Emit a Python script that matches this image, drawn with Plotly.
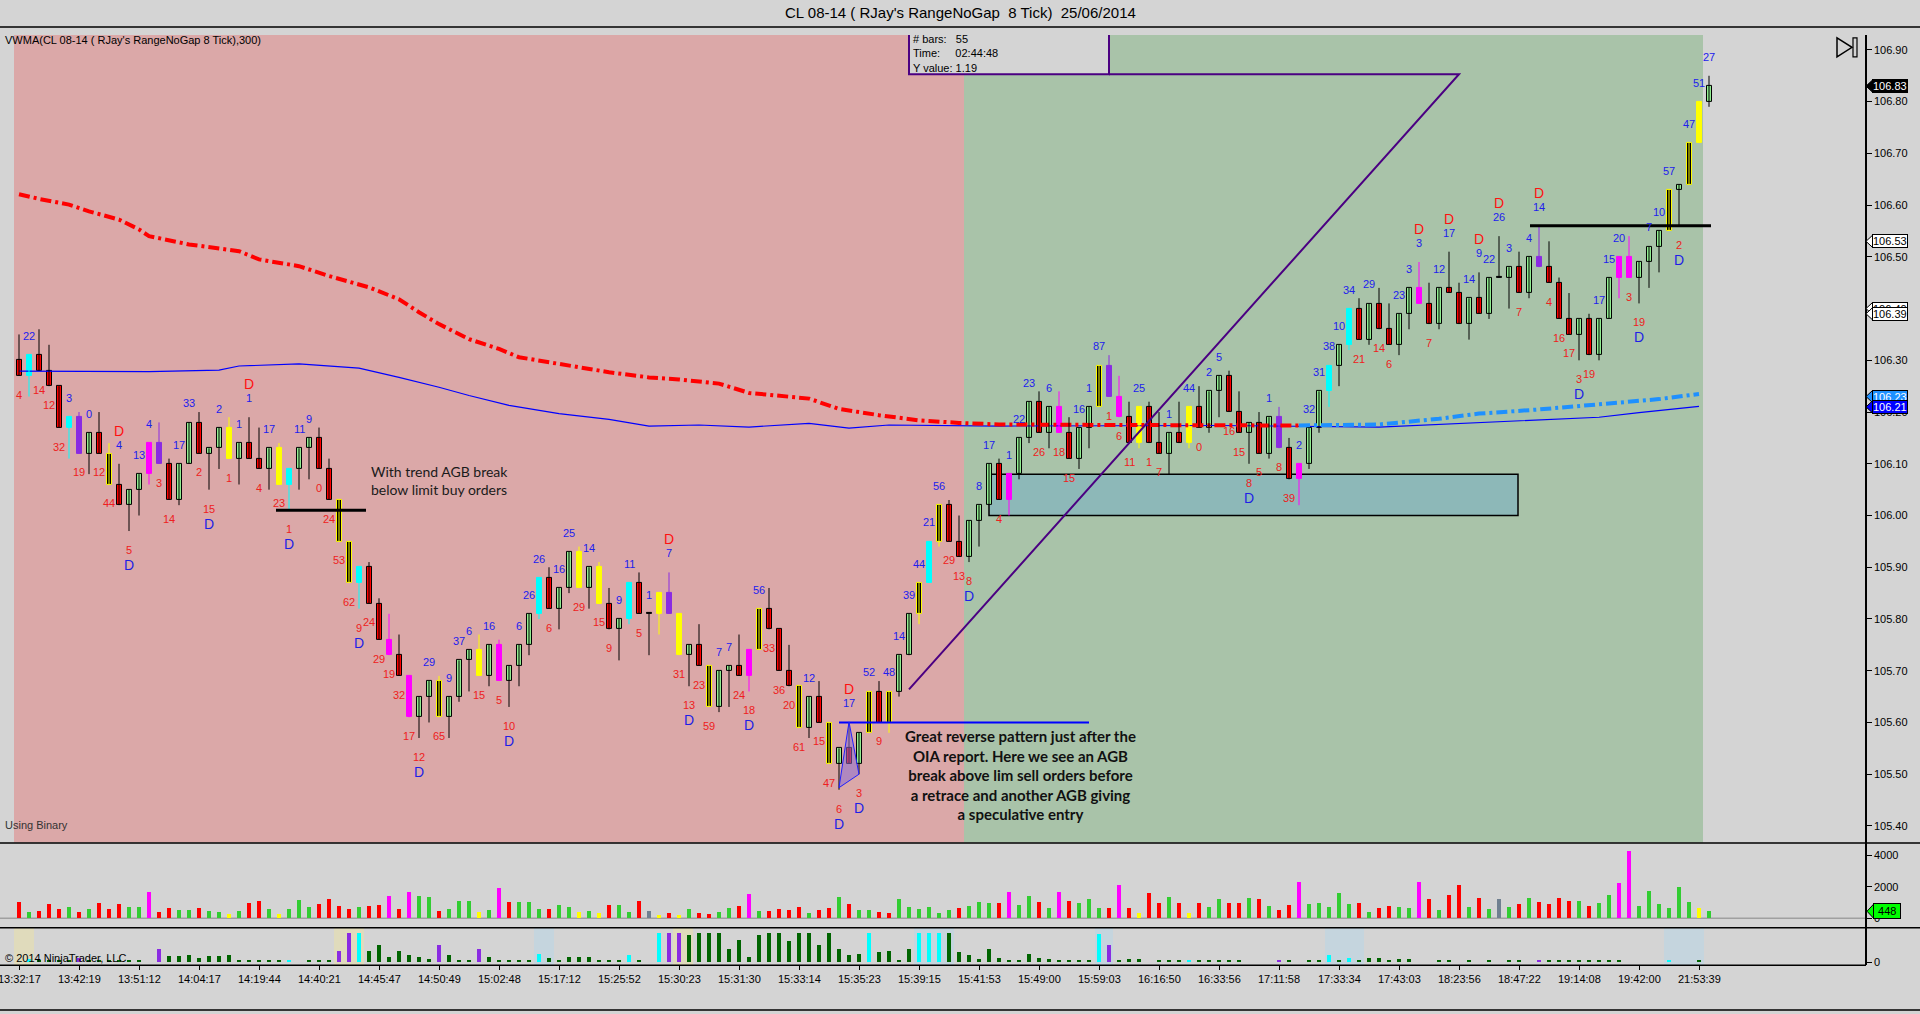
import plotly.graph_objects as go

W, H = 1920, 1014

# ---------------- data ----------------
opens = [106.30,106.27,106.31,106.28,106.25,106.17,106.19,106.12,106.16,106.12,
 106.06,106.02,106.05,106.08,106.14,106.10,106.03,106.10,106.18,106.12,
 106.13,106.17,106.11,106.14,106.11,106.09,106.13,106.06,106.09,106.13,
 106.15,106.09,106.03,105.95,105.87,105.90,105.83,105.76,105.73,105.69,
 105.61,105.65,105.68,105.61,105.65,105.72,105.74,105.69,105.75,105.68,
 105.71,105.75,105.81,105.88,105.82,105.86,105.93,105.86,105.90,105.83,
 105.78,105.80,105.87,105.81,105.81,105.85,105.81,105.73,105.75,105.71,
 105.63,105.70,105.71,105.69,105.74,105.82,105.78,105.70,105.67,105.59,
 105.65,105.60,105.52,105.55,105.52,105.58,105.66,105.60,105.66,105.73,
 105.81,105.87,105.95,106.02,105.95,105.92,105.99,106.02,106.10,106.03,
 106.08,106.15,106.22,106.16,106.21,106.16,106.11,106.17,106.21,106.29,
 106.23,106.19,106.14,106.21,106.14,106.12,106.16,106.14,106.21,106.17,
 106.24,106.27,106.20,106.16,106.18,106.12,106.19,106.13,106.07,106.10,
 106.17,106.24,106.29,106.33,106.40,106.34,106.41,106.36,106.33,106.39,
 106.44,106.41,106.37,106.44,106.43,106.37,106.42,106.39,106.46,106.46,
 106.48,106.43,106.50,106.48,106.45,106.38,106.35,106.38,106.31,106.38,
 106.46,106.50,106.46,106.49,106.52,106.55,106.63,106.64,106.72,106.80]
highs = [106.35,106.31,106.36,106.33,106.25,106.19,106.20,106.16,106.20,106.14,
 106.10,106.05,106.08,106.14,106.18,106.11,106.10,106.18,106.20,106.13,
 106.17,106.19,106.14,106.19,106.17,106.13,106.14,106.09,106.13,106.15,
 106.17,106.11,106.03,105.95,105.90,105.91,105.84,105.81,105.77,105.69,
 105.65,105.68,105.69,105.65,105.72,105.74,105.77,105.75,105.76,105.71,
 105.75,105.81,105.88,105.90,105.86,105.93,105.94,105.90,105.91,105.86,
 105.80,105.87,105.89,105.81,105.85,105.89,105.81,105.75,105.79,105.71,
 105.70,105.71,105.77,105.74,105.82,105.86,105.78,105.75,105.67,105.65,
 105.68,105.60,105.55,105.60,105.58,105.66,105.68,105.66,105.73,105.81,
 105.87,105.95,106.02,106.03,106.00,105.99,106.02,106.10,106.11,106.08,
 106.15,106.22,106.24,106.21,106.24,106.19,106.17,106.21,106.29,106.31,
 106.27,106.22,106.21,106.22,106.20,106.16,106.22,106.21,106.25,106.24,
 106.27,106.28,106.24,106.18,106.20,106.19,106.21,106.15,106.10,106.17,
 106.24,106.29,106.33,106.40,106.42,106.41,106.44,106.41,106.39,106.44,
 106.49,106.45,106.44,106.51,106.45,106.42,106.47,106.46,106.54,106.48,
 106.51,106.50,106.56,106.53,106.46,106.43,106.38,106.39,106.38,106.46,
 106.50,106.54,106.49,106.52,106.55,106.63,106.64,106.72,106.80,106.85]
lows = [106.27,106.23,106.28,106.25,106.17,106.11,106.12,106.08,106.12,106.06,
 106.02,105.97,106.00,106.06,106.10,106.03,106.02,106.10,106.12,106.05,
 106.09,106.11,106.06,106.11,106.09,106.05,106.06,106.01,106.05,106.07,
 106.09,106.03,105.95,105.87,105.82,105.83,105.76,105.73,105.69,105.61,
 105.57,105.60,105.61,105.57,105.64,105.66,105.69,105.67,105.68,105.63,
 105.67,105.73,105.80,105.82,105.78,105.85,105.86,105.82,105.83,105.78,
 105.72,105.79,105.81,105.73,105.77,105.81,105.73,105.67,105.71,105.63,
 105.62,105.63,105.69,105.66,105.74,105.78,105.70,105.67,105.59,105.57,
 105.60,105.52,105.47,105.52,105.50,105.58,105.60,105.58,105.65,105.73,
 105.79,105.87,105.94,105.95,105.92,105.91,105.94,106.02,106.03,106.00,
 106.07,106.14,106.16,106.13,106.16,106.11,106.09,106.13,106.21,106.23,
 106.19,106.14,106.13,106.14,106.12,106.08,106.14,106.13,106.17,106.16,
 106.19,106.20,106.16,106.10,106.12,106.11,106.13,106.07,106.02,106.09,
 106.16,106.21,106.25,106.32,106.34,106.33,106.36,106.33,106.31,106.36,
 106.41,106.37,106.36,106.43,106.37,106.34,106.39,106.38,106.46,106.40,
 106.43,106.42,106.48,106.45,106.38,106.35,106.30,106.31,106.30,106.38,
 106.42,106.46,106.41,106.44,106.47,106.55,106.56,106.64,106.72,106.79]
closes = [106.27,106.31,106.28,106.25,106.17,106.19,106.12,106.16,106.12,106.06,
 106.02,106.05,106.08,106.14,106.10,106.03,106.10,106.18,106.12,106.13,
 106.17,106.11,106.14,106.11,106.09,106.13,106.06,106.09,106.13,106.15,
 106.09,106.03,105.95,105.87,105.90,105.83,105.76,105.73,105.69,105.61,
 105.65,105.68,105.61,105.65,105.72,105.74,105.69,105.75,105.68,105.71,
 105.75,105.81,105.88,105.82,105.86,105.93,105.86,105.90,105.83,105.78,
 105.80,105.87,105.81,105.81,105.85,105.81,105.73,105.75,105.71,105.63,
 105.70,105.71,105.69,105.74,105.82,105.78,105.70,105.67,105.59,105.65,
 105.60,105.52,105.55,105.52,105.58,105.66,105.60,105.66,105.73,105.81,
 105.87,105.95,106.02,105.95,105.92,105.99,106.02,106.10,106.03,106.08,
 106.15,106.22,106.16,106.21,106.16,106.11,106.17,106.21,106.29,106.23,
 106.19,106.14,106.21,106.14,106.12,106.16,106.14,106.21,106.17,106.24,
 106.27,106.20,106.16,106.18,106.12,106.19,106.13,106.07,106.10,106.17,
 106.24,106.29,106.33,106.40,106.34,106.41,106.36,106.33,106.39,106.44,
 106.41,106.37,106.44,106.43,106.37,106.42,106.39,106.46,106.46,106.48,
 106.43,106.50,106.48,106.45,106.38,106.35,106.38,106.31,106.38,106.46,
 106.50,106.46,106.49,106.52,106.55,106.63,106.64,106.72,106.80,106.83]
candle_codes = list("rcrrrcpgrk" "rggmprggrg" "gygrrgycgg" "rrkkcrrmrm" "ggkgggygmg"
                    "ggcrggygyr" "gcrdypygrk" "ggrmkrrrkg" "rkgrgkrkgg" "kckrrgggrm"
                    "ggrgmrggkp" "mryrrgryrg" "grrgrgprmg" "gcgcrgrrgg" "mrgrrgrgdg"
                    "rgprrrgrgg" "mmgggkgkyg")

volume = [1020,380,445,870,550,700,380,530,955,530,
 870,660,700,1650,380,635,490,490,635,425,
 340,230,425,955,1080,570,230,550,1120,700,
 870,1210,740,550,660,740,805,1400,530,1650,
 1400,1335,445,550,1080,1080,380,490,1910,1020,
 1020,1020,550,530,805,660,340,425,320,805,
 805,380,1080,425,170,320,170,550,320,210,
 380,595,765,1505,445,425,530,490,660,320,
 490,595,1335,870,490,490,380,275,1190,660,
 530,660,320,490,600,760,1020,955,910,1650,
 830,1400,1020,595,1650,1080,955,1165,595,595,
 2080,595,320,1590,910,1335,910,320,955,660,
 1165,910,910,1230,1165,760,465,830,2290,850,
 910,660,1590,850,910,340,595,760,660,595,
 2290,1165,465,1480,2080,660,1230,530,1165,700,
 850,1270,1020,850,1270,1080,1080,760,910,1480,
 2225,4260,760,1720,850,635,1970,975,595,448]
volume_codes = list("rgrrrgrgrr" "rggmrrggrg" "gygrrgyggg" "rrrrgrrmrm" "ggrgggygmr"
                    "gggrggygyr" "ggrsyrygrr" "ggrmgrrrrg" "rrgrggrrgg" "ggggrgggrm"
                    "ggrgmrgggr" "mryrrgryrg" "grrgrgrrmg" "ggggrgrrgg" "mrgrrgrgsg"
                    "rgrrrrgrgg" "mmggggggyg")

lower_vals = [0,3,2,2,2,2,4,2,2,2, 2,2,2,0,13,6,6,7,4,6, 6,7,2,2,2,2,2,2,0,2,
 2,2,11,29,29,11,17,5,11,7, 5,3,17,7,2,2,13,5,2,2, 2,2,8,4,2,5,5,5,2,2,
 2,7,2,0,29,29,29,27,29,29, 29,13,22,5,27,29,29,21,29,29, 17,29,13,7,8,29,10,11,2,13,
 29,29,29,29,10,7,3,13,4,2, 2,8,4,3,2,2,2,2,28,17, 2,3,3,0,2,2,2,2,2,2,
 2,2,2,0,0,0,2,2,0,2, 2,7,2,4,2,4,4,2,3,3, 0,0,2,2,0,2,0,2,0,2,
 2,0,2,2,2,2,2,2,2,2, 2,0,0,0,0,2,0,0,2,0]
lower_codes = list("ncddddpddd" "dddnpddddd" "dddddddcnd" "ddppcddddd" "ddpdddpddd"
                   "ddcddddddd" "dcdncppddd" "dddddddddd" "dddddcdddd" "cccddddddd"
                   "ddddddddcp" "dddndddcdd" "dddnnnpdnd" "dcdcdddddd" "nnddndndnd"
                   "dnpddddddd" "dnnnncnndn")

# moving averages (vertices)
vwma_fast_x = [0,2,5,7,10,12,13,17,22,24,28,31,35,38,40,42,45,48,50,54,57,59,63,66,70,73,79,82,86,90,94,98,110,120,128]
vwma_fast_y = [106.621,106.612,106.601,106.588,106.572,106.553,106.540,106.524,106.511,106.495,106.482,106.463,
               106.441,106.418,106.393,106.370,106.341,106.322,106.306,106.293,106.285,106.277,106.267,106.263,
               106.255,106.237,106.226,106.206,106.194,106.184,106.179,106.176,106.175,106.174,106.174]
vwma_rise_x = [128,136,142,146,152,160,164,168]
vwma_rise_y = [106.174,106.176,106.187,106.197,106.205,106.219,106.225,106.235]
vwma300_x = [0,13,20,22,28,34,38,42,45,49,54,59,63,68,73,79,83,87,98,120,136,146,158,162,168]
vwma300_y = [106.279,106.278,106.281,106.289,106.293,106.285,106.267,106.248,106.232,106.213,106.197,106.186,
             106.173,106.175,106.171,106.178,106.169,106.175,106.173,106.174,106.171,106.180,106.190,106.199,106.211]

tick_bars = list(range(0, 170, 6))
tick_times = ["13:32:17","13:42:19","13:51:12","14:04:17","14:19:44","14:40:21","14:45:47","14:50:49",
              "15:02:48","15:17:12","15:25:52","15:30:23","15:31:30","15:33:14","15:35:23","15:39:15",
              "15:41:53","15:49:00","15:59:03","16:16:50","16:33:56","17:11:58","17:33:34","17:43:03",
              "18:23:56","18:47:22","19:14:08","19:42:00","21:53:39"]
price_ticks = [105.4,105.5,105.6,105.7,105.8,105.9,106.0,106.1,106.2,106.3,106.4,106.5,106.6,106.7,106.8,106.9]

top_idx = [1,5,7,10,12,13,16,17,20,22,23,25,28,29,41,43,44,45,47,50,51,52,54,55,57,60,61,63,65,70,
           71,74,79,83,85,87,88,89,90,91,92,96,97,99,100,101,103,106,107,108,112,115,117,119,120,125,128,129,130,131,
           132,133,135,138,139,140,142,143,145,146,147,148,149,151,152,158,159,160,163,164,165,167,168,169]
top_txt = ["22","3","0","4","13","4","17","33","2","1","1","17","11","9","29","9","37","6","16","6",
           "26","26","16","25","14","9","11","1","7","7","7","56","12","17","52","48","14","39","44","21",
           "56","8","17","1","22","23","6","16","1","87","25","1","44","2","5","1","2","32","31","38",
           "10","34","29","23","3","3","12","17","14","9","22","26","3","4","14","17","15","20","7","10",
           "57","47","51","27"]
bot_idx = [0,2,3,4,6,8,9,11,14,15,18,19,21,24,26,27,30,31,32,33,34,35,36,37,38,39,40,42,46,48,
           49,53,56,58,59,62,66,67,68,69,72,73,75,76,77,78,80,81,82,84,86,93,94,95,98,102,104,105,109,110,
           111,113,114,118,121,122,123,124,126,127,134,136,137,141,150,153,154,155,156,157,161,162,166]
bot_txt = ["4","14","12","32","19","12","44","5","3","14","2","15","1","4","23","1","0","24","53","62",
           "9","24","29","19","32","17","12","65","15","5","10","6","29","15","9","5","31","13","23","59",
           "24","18","33","36","20","61","15","47","6","3","9","29","13","8","4","26","18","15","1","6",
           "11","1","7","0","16","15","8","5","8","39","21","14","6","7","7","4","16","17","3","19",
           "3","19","2"]
dtop_idx = [10,23,65,83,140,143,146,148,152]
dbot_idx = [11,19,27,34,40,49,67,73,82,84,95,123,156,162,166]

# price tags on right axis: value, fill, text colour
tag_vals = [106.83, 106.53, 106.40, 106.39, 106.23, 106.21]
tag_fill = ["#000000", "#FFFFFF", "#FFFFFF", "#FFFFFF", "#1E90FF", "#0000FF"]
tag_font = ["#FFFFFF", "#000000", "#000000", "#000000", "#FFFFFF", "#FFFFFF"]
last_volume = 448

# ---------------- helpers ----------------
def fx(px):
    return px / W

def fy(px):
    return 1 - px / H

N = len(opens)
xs = list(range(N))
FONT = "Liberation Sans, Arial, sans-serif"

body_fill = {"g": "#90EE90", "r": "#FF0000", "c": "#00FFFF", "m": "#FF00FF",
             "p": "#8A2BE2", "y": "#FFFF00", "k": "#000000", "d": "#000000"}
body_line = {"g": "#000000", "r": "#000000", "c": "#00FFFF", "m": "#FF00FF",
             "p": "#8A2BE2", "y": "#FFFF00", "k": "#FFFF00", "d": "#000000"}
wick_col = {"g": "#000000", "r": "#000000", "d": "#000000", "c": "#00FFFF",
            "m": "#FF00FF", "p": "#8A2BE2", "y": "#FFFF00", "k": "#FFFF00"}
vol_col = {"r": "#FF0000", "g": "#32CD32", "m": "#FF00FF", "y": "#FFFF00", "s": "#708090"}
low_col = {"d": "#006400", "c": "#00FFFF", "p": "#8A2BE2", "n": "rgba(0,0,0,0)"}

fig = go.Figure()

# moving averages
fig.add_trace(go.Scatter(x=vwma300_x, y=vwma300_y, mode="lines",
                         line=dict(color="#0000FF", width=1.2), xaxis="x", yaxis="y", hoverinfo="skip"))
fig.add_trace(go.Scatter(x=vwma_fast_x, y=vwma_fast_y, mode="lines",
                         line=dict(color="#FF0000", width=4, dash="11px,4px,3px,4px"),
                         xaxis="x", yaxis="y", hoverinfo="skip"))
fig.add_trace(go.Scatter(x=vwma_rise_x, y=vwma_rise_y, mode="lines",
                         line=dict(color="#1E90FF", width=4, dash="11px,4px,3px,4px"),
                         xaxis="x", yaxis="y", hoverinfo="skip"))

# wicks grouped by colour
for wc in sorted(set(wick_col.values())):
    wx, wy = [], []
    for i in xs:
        if wick_col[candle_codes[i]] == wc:
            wx += [i, i, None]
            wy += [lows[i], highs[i], None]
    if wx:
        fig.add_trace(go.Scatter(x=wx, y=wy, mode="lines", line=dict(color=wc, width=1),
                                 xaxis="x", yaxis="y", hoverinfo="skip"))

# bodies
base = [min(o, c) for o, c in zip(opens, closes)]
height = [max(abs(c - o), 0.0015) for o, c in zip(opens, closes)]
fig.add_trace(go.Bar(x=xs, y=height, base=base, width=0.5,
                     marker=dict(color=[body_fill[k] for k in candle_codes],
                                 line=dict(color=[body_line[k] for k in candle_codes], width=1)),
                     xaxis="x", yaxis="y", hoverinfo="skip"))

# volume
fig.add_trace(go.Bar(x=xs, y=volume, width=0.32,
                     marker=dict(color=[vol_col[k] for k in volume_codes], line=dict(width=0)),
                     xaxis="x2", yaxis="y2", hoverinfo="skip"))
# lower indicator
fig.add_trace(go.Bar(x=xs, y=lower_vals, width=0.42,
                     marker=dict(color=[low_col[k] for k in lower_codes], line=dict(width=0)),
                     xaxis="x3", yaxis="y3", hoverinfo="skip"))

XDOM = [fx(14), fx(1865)]
XR = [-0.5, 184.6]
axis_common = dict(showgrid=False, zeroline=False, fixedrange=True)
fig.update_layout(
    width=W, height=H, margin=dict(l=0, r=0, t=0, b=0),
    paper_bgcolor="#D4D4D4", plot_bgcolor="rgba(0,0,0,0)",
    showlegend=False, barmode="overlay", bargap=0,
    font=dict(family=FONT, size=11, color="#000000"),
    xaxis=dict(domain=XDOM, range=XR, anchor="y", showticklabels=False, ticks="", **axis_common),
    xaxis2=dict(domain=XDOM, range=XR, anchor="y2", matches="x", showticklabels=False, ticks="", **axis_common),
    xaxis3=dict(domain=XDOM, range=XR, anchor="y3", matches="x", tickvals=tick_bars,
                ticktext=[""] * len(tick_bars), ticks="outside", ticklen=4, tickcolor="#000000",
                **axis_common),
    yaxis=dict(domain=[fy(845), fy(35)], range=[105.368, 106.929], side="right", anchor="x",
               tickvals=price_ticks, ticktext=["%.2f" % v for v in price_ticks],
               ticks="outside", ticklen=5, tickcolor="#000000", showline=True, linecolor="#000000",
               linewidth=1.5, tickfont=dict(size=11, family=FONT), **axis_common),
    yaxis2=dict(domain=[fy(930), fy(846)], range=[-571, 4762], side="right", anchor="x2",
                tickvals=[0, 2000, 4000], ticks="outside", ticklen=5, tickcolor="#000000",
                showline=True, linecolor="#000000", linewidth=1.5, tickfont=dict(size=11, family=FONT),
                **axis_common),
    yaxis3=dict(domain=[fy(968), fy(930)], range=[-3, 35], side="right", anchor="x3",
                tickvals=[0], ticks="outside", ticklen=5, tickcolor="#000000",
                showline=True, linecolor="#000000", linewidth=1.5, tickfont=dict(size=11, family=FONT),
                **axis_common),
)

shapes = []
# session backgrounds
shapes.append(dict(type="rect", xref="x", yref="y domain", x0=-0.5, x1=94.5, y0=0, y1=1,
                   fillcolor="#DBA8A8", line=dict(width=0), layer="below"))
shapes.append(dict(type="rect", xref="x", yref="y domain", x0=94.5, x1=168.4, y0=0, y1=1,
                   fillcolor="#A9C3A9", line=dict(width=0), layer="below"))
# teal zone
shapes.append(dict(type="rect", xref="x", yref="y", x0=97, x1=149.9, y0=106.00, y1=106.08,
                   fillcolor="#8DB8B8", line=dict(color="#000000", width=1.5), layer="below"))
# lower panel highlights
for a, b, col in [(-0.6, 1.5, "rgba(240,228,160,0.45)"), (31.5, 34.5, "rgba(240,228,160,0.45)"),
                  (65.4, 67.4, "rgba(240,228,160,0.45)"), (51.5, 53.5, "rgba(180,215,235,0.45)"),
                  (89.5, 93.5, "rgba(180,215,235,0.45)"), (107.6, 109.4, "rgba(180,215,235,0.45)"),
                  (130.6, 134.5, "rgba(180,215,235,0.45)"), (164.5, 168.5, "rgba(180,215,235,0.45)")]:
    shapes.append(dict(type="rect", xref="x3", yref="y3 domain", x0=a, x1=b, y0=0, y1=1,
                       fillcolor=col, line=dict(width=0), layer="below"))
# volume zero line
shapes.append(dict(type="line", xref="paper", yref="y2", x0=0, x1=fx(1865), y0=0, y1=0,
                   line=dict(color="#A0A0A0", width=1.5), layer="below"))
# frame lines
for ypx, x1 in [(27, W), (845.5, W), (930.5, W), (968, 1866), (1013, W)]:
    shapes.append(dict(type="line", xref="paper", yref="paper", x0=0, x1=fx(x1), y0=fy(ypx), y1=fy(ypx),
                       line=dict(color="#000000", width=1.5)))
# drawn objects on price panel
shapes.append(dict(type="line", xref="x", yref="y", x0=25.7, x1=34.7, y0=106.01, y1=106.01,
                   line=dict(color="#000000", width=3)))
shapes.append(dict(type="line", xref="x", yref="y", x0=151.1, x1=169.2, y0=106.56, y1=106.56,
                   line=dict(color="#000000", width=3)))
shapes.append(dict(type="line", xref="x", yref="y", x0=82, x1=107, y0=105.60, y1=105.60,
                   line=dict(color="#0000FF", width=2)))
shapes.append(dict(type="path", xref="x", yref="y",
                   path="M82,105.474 L83,105.601 L84,105.50 Z",
                   fillcolor="rgba(140,110,210,0.55)", line=dict(color="#2020FF", width=1)))
# info box + measuring line
shapes.append(dict(type="rect", xref="x", yref="y", x0=89, x1=109, y0=106.853, y1=106.935,
                   fillcolor="#D4D4D4", line=dict(color="#4B0082", width=2)))
shapes.append(dict(type="path", xref="x", yref="y",
                   path="M89,105.664 L144,106.853 L109,106.853",
                   line=dict(color="#4B0082", width=2)))
# pointer triangles of the price tags
for v, fc in zip(tag_vals, tag_fill):
    shapes.append(dict(type="path", xref="paper", yref="y", xsizemode="pixel", ysizemode="pixel",
                       xanchor=fx(1866), yanchor=v, path="M0,0 L7,6.5 L7,-6.5 Z",
                       fillcolor=fc, line=dict(color="#000000", width=1)))
shapes.append(dict(type="path", xref="paper", yref="y2", xsizemode="pixel", ysizemode="pixel",
                   xanchor=fx(1867), yanchor=last_volume, path="M0,0 L7,7.5 L7,-7.5 Z",
                   fillcolor="#00FF00", line=dict(color="#000000", width=1)))
# play-to-end icon
shapes.append(dict(type="path", xref="paper", yref="paper",
                   path="M%f,%f L%f,%f L%f,%f Z" % (fx(1837), fy(38), fx(1837), fy(57), fx(1852), fy(47.5)),
                   line=dict(color="#000000", width=1.5), fillcolor="rgba(0,0,0,0)"))
shapes.append(dict(type="rect", xref="paper", yref="paper", x0=fx(1853), x1=fx(1857), y0=fy(57), y1=fy(38),
                   line=dict(color="#000000", width=1.2), fillcolor="rgba(0,0,0,0)"))
fig.update_layout(shapes=shapes)

ann = []
BLUE, RED = "#2020EE", "#EE2020"
for i, t in zip(top_idx, top_txt):
    ann.append(dict(x=i, y=highs[i], xref="x", yref="y", text=t, showarrow=False, yshift=19,
                    xanchor="center", yanchor="middle", font=dict(size=11, color=BLUE, family=FONT)))
for i, t in zip(bot_idx, bot_txt):
    ann.append(dict(x=i, y=lows[i], xref="x", yref="y", text=t, showarrow=False, yshift=-19,
                    xanchor="center", yanchor="middle", font=dict(size=11, color=RED, family=FONT)))
for i in dtop_idx:
    ann.append(dict(x=i, y=highs[i], xref="x", yref="y", text="D", showarrow=False, yshift=33,
                    xanchor="center", yanchor="middle", font=dict(size=14, color="#FF1010", family=FONT)))
for i in dbot_idx:
    ann.append(dict(x=i, y=lows[i], xref="x", yref="y", text="D", showarrow=False, yshift=-34,
                    xanchor="center", yanchor="middle", font=dict(size=14, color="#1E1EE6", family=FONT)))
# price tag boxes
for v, fc, tc in zip(tag_vals, tag_fill, tag_font):
    ann.append(dict(x=fx(1872), y=v, xref="paper", yref="y", text="%.2f" % v, showarrow=False,
                    xanchor="left", yanchor="middle", bgcolor=fc, bordercolor="#000000", borderwidth=1,
                    borderpad=0, font=dict(size=11, color=tc, family=FONT)))
ann.append(dict(x=fx(1873), y=last_volume, xref="paper", yref="y2", text=" %d " % last_volume, showarrow=False,
                xanchor="left", yanchor="middle", bgcolor="#00FF00", bordercolor="#000000", borderwidth=1,
                borderpad=1, font=dict(size=11, color="#000000", family=FONT)))
# time axis labels
for b, t in zip(tick_bars, tick_times):
    ann.append(dict(x=b, y=fy(982), xref="x3", yref="paper", text=t, showarrow=False,
                    xanchor="center", yanchor="middle", font=dict(size=11, family=FONT)))
# texts
ann.append(dict(x=0.5, y=fy(13), xref="paper", yref="paper", showarrow=False, xanchor="center", yanchor="middle",
                text="CL 08-14 ( RJay's RangeNoGap\u00a0 8 Tick)\u00a0 25/06/2014",
                font=dict(size=15, color="#000000", family=FONT)))
ann.append(dict(x=fx(3), y=fy(40), xref="paper", yref="paper", xanchor="left", yanchor="middle", showarrow=False,
                text="VWMA(CL 08-14 ( RJay's RangeNoGap 8 Tick),300)", font=dict(size=11, family=FONT)))
ann.append(dict(x=fx(3), y=fy(827), xref="paper", yref="paper", xanchor="left", yanchor="middle", showarrow=False,
                text="Using Binary", font=dict(size=11, family=FONT, color="#333333")))
ann.append(dict(x=fx(3), y=fy(961), xref="paper", yref="paper", xanchor="left", yanchor="middle", showarrow=False,
                text="\u00a9 2014 NinjaTrader, LLC", font=dict(size=11, family=FONT)))
ann.append(dict(x=fx(911), y=fy(54), xref="paper", yref="paper", xanchor="left", yanchor="middle", align="left",
                showarrow=False, text="# bars:\u00a0\u00a0 55<br>Time:\u00a0\u00a0\u00a0\u00a0 02:44:48<br>Y value: 1.19",
                font=dict(size=11, family=FONT)))
ann.append(dict(x=35, y=106.068, xref="x", yref="y", xanchor="left", yanchor="middle", align="left", showarrow=False,
                text="With trend AGB break<br>below limit buy orders",
                font=dict(size=14, family="Lato, Open Sans, sans-serif", color="#1A1A1A")))
ann.append(dict(x=100.1, y=105.498, xref="x", yref="y", xanchor="center", yanchor="middle", align="center",
                showarrow=False,
                text="<b>Great reverse pattern just after the<br>OIA report. Here we see an AGB<br>"
                     "break above lim sell orders before<br>a retrace and another AGB giving<br>"
                     "a speculative entry</b>",
                font=dict(size=15, family="Lato, Open Sans, sans-serif", color="#111111")))
fig.update_layout(annotations=ann)

fig.write_html("out.html", config={"displayModeBar": False},
               post_script="document.body.style.margin='0';document.body.style.overflow='hidden';")
